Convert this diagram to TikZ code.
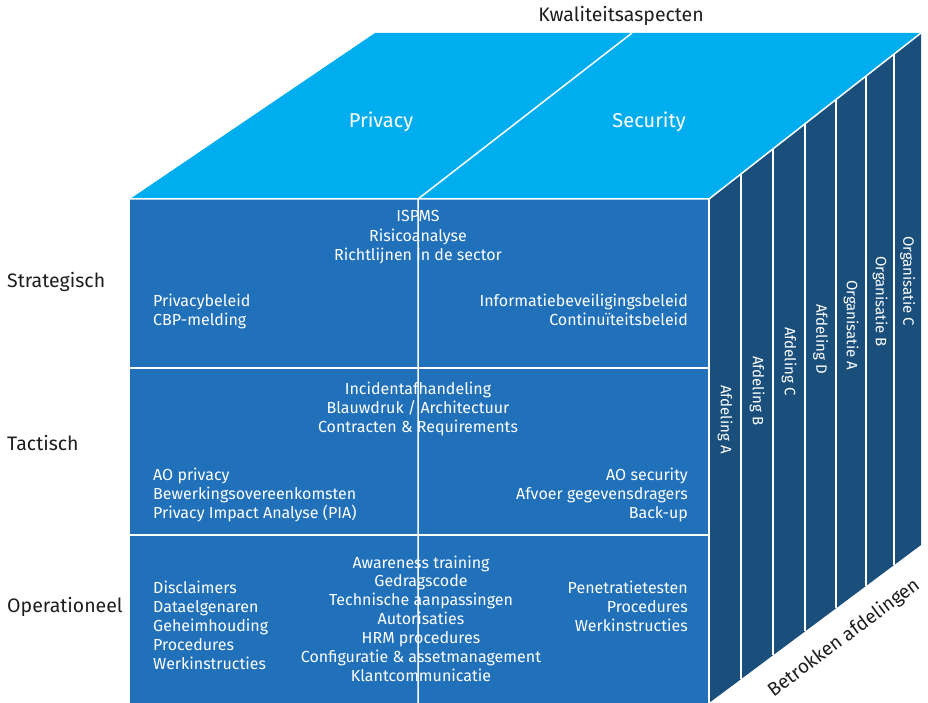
\documentclass[tikz,border=0pt]{standalone}
\usepackage{fontspec}
\setmainfont{Fira Sans}
\usetikzlibrary{calc}
\definecolor{topcyan}{RGB}{0,174,239}
\definecolor{frontblue}{RGB}{32,112,186}
\definecolor{sideblue}{RGB}{26,79,124}
\definecolor{labelgrey}{RGB}{30,30,30}

\begin{document}
\begin{tikzpicture}[x=1pt,y=-1pt,
    wline/.style={white,line width=1.5pt},
    celltext/.style={white,inner sep=0pt,font=\fontsize{16}{19}\selectfont},
    deptext/.style={white,inner sep=0pt,font=\fontsize{15}{18}\selectfont},
    toptext/.style={white,inner sep=0pt,font=\fontsize{20}{24}\selectfont},
    outlabel/.style={labelgrey,inner sep=0pt,font=\fontsize{19.5}{23}\selectfont}]
  \useasboundingbox (0,0) rectangle (928,703);
  %corners of the cube
  \coordinate (ftl) at (130,199);
  \coordinate (ftr) at (709,199);
  \coordinate (btl) at (375,33);
  \coordinate (btr) at (921,33);
  \coordinate (fbl) at (130,703);
  \coordinate (fbr) at (709,703);
  \coordinate (bbr) at (921,545);
  \coordinate (ftm) at (418,199);
  \coordinate (btm) at (632,33);
  \coordinate (fbm) at (418,703);
  %faces
  \fill[topcyan] (ftl) -- (btl) -- (btr) -- (ftr) -- cycle;
  \fill[frontblue] (ftl) rectangle (fbr);
  \fill[sideblue] (ftr) -- (btr) -- (bbr) -- (fbr) -- cycle;
  %white edges and dividers
  \draw[wline] (ftl) -- (ftr) -- (btr);
  \draw[wline] (ftr) -- (fbr);
  \draw[wline] (btm) -- (ftm) -- (fbm);
  \foreach \y in {368,535}
    \draw[wline] (130,\y) -- (709,\y);
  \foreach \t in {0.151,0.302,0.453,0.599,0.741,0.873}
    \draw[wline] ($(ftr)!\t!(btr)$) -- ($(fbr)!\t!(bbr)$);

  %top face
  \node[outlabel,anchor=base] (kwal) at (621,22) {Kwaliteitsaspecten};
  \node[toptext,anchor=base] (priv) at (381,128) {Privacy};
  \node[toptext,anchor=base] (sec) at (649,128) {Security};

  %levels
  \node[outlabel,anchor=base west] (strat) at (7,287) {Strategisch};
  \node[outlabel,anchor=base west] (tact) at (7,450) {Tactisch};
  \node[outlabel,anchor=base west] (oper) at (7,612) {Operationeel};

  %strategisch
  \foreach \t [count=\i] in {ISPMS,Risicoanalyse,Richtlijnen in de sector}
    \node[celltext,anchor=base] (sm-\i) at (418,{203+19*\i}) {\t};
  \foreach \t [count=\i] in {Privacybeleid,CBP-melding}
    \node[celltext,anchor=base west] (sl-\i) at (153,{287+19*\i}) {\t};
  \foreach \t [count=\i] in {Informatiebeveiligingsbeleid,Continuïteitsbeleid}
    \node[celltext,anchor=base east] (sr-\i) at (688,{287+19*\i}) {\t};

  %tactisch
  \foreach \t [count=\i] in {Incidentafhandeling,Blauwdruk / Architectuur,Contracten \& Requirements}
    \node[celltext,anchor=base] (tm-\i) at (418,{375+19*\i}) {\t};
  \foreach \t [count=\i] in {AO privacy,Bewerkingsovereenkomsten,Privacy Impact Analyse (PIA)}
    \node[celltext,anchor=base west] (tl-\i) at (153,{461+19*\i}) {\t};
  \foreach \t [count=\i] in {AO security,Afvoer gegevensdragers,Back-up}
    \node[celltext,anchor=base east] (tr-\i) at (688,{461+19*\i}) {\t};

  %operationeel
  \foreach \t [count=\i] in {Awareness training,Gedragscode,Technische aanpassingen,Autorisaties,HRM procedures,Configuratie \& assetmanagement,Klantcommunicatie}
    \node[celltext,anchor=base] (om-\i) at (421,{549.1+18.9*\i}) {\t};
  \foreach \t [count=\i] in {Disclaimers,Dataelgenaren,Geheimhouding,Procedures,Werkinstructies}
    \node[celltext,anchor=base west] (ol-\i) at (153,{574+19*\i}) {\t};
  \foreach \t [count=\i] in {Penetratietesten,Procedures,Werkinstructies}
    \node[celltext,anchor=base east] (or-\i) at (688,{574+19*\i}) {\t};

  %betrokken afdelingen
  \foreach \t/\x/\y [count=\i] in {Afdeling A/725/385,Afdeling B/757/356,Afdeling C/789/327,Afdeling D/820.5/304,Organisatie A/851/280,Organisatie B/880/256,Organisatie C/907.5/236}
    \node[deptext,rotate=-90,anchor=west] (dep-\i) at (\x,\y) {\t};
  \node[outlabel,font=\fontsize{19}{23}\selectfont,rotate=36.7] (betr) at (844,638) {Betrokken afdelingen};
\end{tikzpicture}
\end{document}
